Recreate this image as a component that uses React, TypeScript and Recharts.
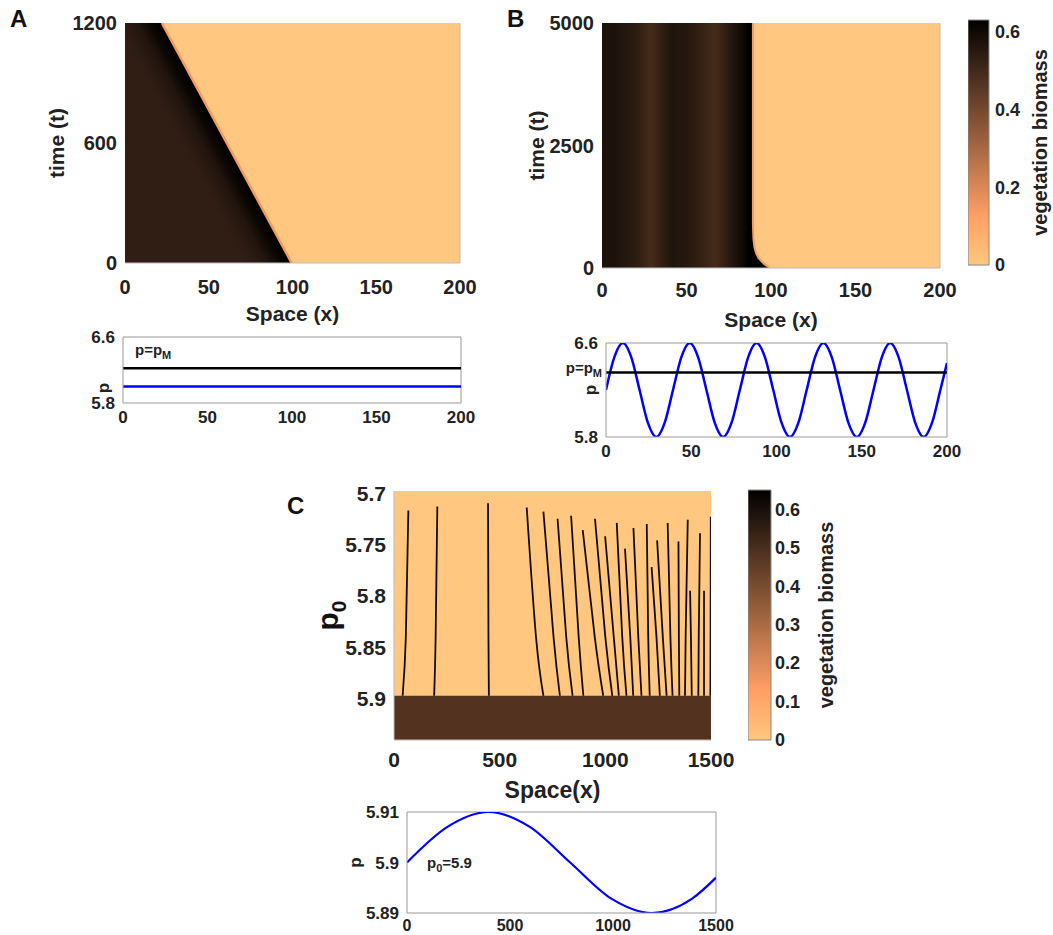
import React from 'react';
import {
  ComposedChart, BarChart, Area, Line, Bar, XAxis, YAxis, CartesianGrid,
  ReferenceLine, ReferenceArea, Label,
} from 'recharts';

const FONT = '"Liberation Sans", Arial, Helvetica, sans-serif';
const INK = '#222';
const ORANGE = '#FFC77F';
const SALMON = '#F79A62';
const BLUE = '#0000FF';

// ---- panel A : front moving left through time ----
const A_X_TICKS = [0, 50, 100, 150, 200];
const A_T_TICKS = [0, 600, 1200];
const A_FRONT_X = [0, 22, 99.5];
const A_FRONT_T = [1200, 1200, 0];
const A_P_X = [0, 200];
const A_P = [6.0, 6.0];
const A_P_M = 6.22;

// ---- panel B : pinned front ----
const B_T_TICKS = [0, 2500, 5000];
const B_FRONT_X = [89.3, 89.3, 89.6, 90.2, 91.2, 92.6, 94.5, 96.5, 99.5];
const B_FRONT_T = [5000, 900, 600, 420, 300, 205, 130, 68, 0];
const B_SIN_X = [0, 4.9, 9.9, 14.8, 19.7, 24.6, 29.5, 34.4, 39.3, 44.2, 49.1, 54.0, 58.9, 63.8,
  68.7, 73.6, 78.5, 83.4, 88.3, 93.2, 98.1, 103.0, 107.9, 112.8, 117.7, 122.6, 127.5, 132.4,
  137.3, 142.2, 147.1, 152.0, 156.9, 161.8, 166.7, 171.6, 176.5, 181.4, 186.3, 191.2, 196.1, 200];
const B_SIN_P = [6.2, 6.48, 6.6, 6.48, 6.2, 5.92, 5.8, 5.92, 6.2, 6.48, 6.6, 6.48, 6.2, 5.92,
  5.8, 5.92, 6.2, 6.48, 6.6, 6.48, 6.2, 5.92, 5.8, 5.92, 6.2, 6.48, 6.6, 6.48,
  6.2, 5.92, 5.8, 5.92, 6.2, 6.48, 6.6, 6.48, 6.2, 5.92, 5.8, 5.92, 6.2, 6.43];
const B_P_M = 6.35;
const P_TICKS = [5.8, 6.6];

// ---- panel C : streaks vs p0 ----
const C_X_TICKS = [0, 500, 1000, 1500];
const C_P0_TICKS = [5.7, 5.75, 5.8, 5.85, 5.9];
const C_BAND_P = 5.897;
const C_MID_P = 5.84;
const C_TOP_X = [68, 205, 445, 628, 707, 774, 838, 893, 951, 999, 1054, 1093, 1133, 1196, 1219, 1245, 1295, 1346, 1390, 1401, 1448, 1467, 1499];
const C_TOP_P = [5.717, 5.713, 5.71, 5.714, 5.718, 5.725, 5.722, 5.736, 5.725, 5.742, 5.729, 5.754, 5.734, 5.73, 5.772, 5.746, 5.729, 5.747, 5.726, 5.795, 5.739, 5.795, 5.723];
const C_MID_X = [56, 197, 447, 672, 755, 815, 874, 950, 1000, 1040, 1080, 1118, 1156, 1203, 1242, 1272, 1308, 1348, 1380, 1405, 1442, 1467, 1498];
const C_BASE_X = [41, 190, 449, 707, 785, 845, 896, 990, 1033, 1064, 1100, 1132, 1171, 1210, 1258, 1290, 1318, 1350, 1377, 1409, 1440, 1467, 1497];
const C_SIN_X = [0, 198, 396, 594, 792, 990, 1188, 1386, 1500];
const C_SIN_P = [5.9, 5.9071, 5.91, 5.9071, 5.9, 5.8929, 5.89, 5.8929, 5.897];

// ---- colorbars ----
const CB_B_MAX = 0.63;
const CB_B_TICKS = [0, 0.2, 0.4, 0.6];
const CB_C_MAX = 0.65;
const CB_C_TICKS = [0, 0.1, 0.2, 0.3, 0.4, 0.5, 0.6];

const aVeg = A_FRONT_X.map((x, i) => ({ x, t: A_FRONT_T[i] }));
const aFront = aVeg.slice(1);
const aP = A_P_X.map((x, i) => ({ x, p: A_P[i] }));
const aPM = A_P_X.map(x => ({ x, p: A_P_M }));

const bFront = B_FRONT_X.map((x, i) => ({ x, t: B_FRONT_T[i] }));
const bBare = [...bFront.slice(1).map(d => ({ x: d.x, band: [d.t, 5000] })), { x: 200, band: [0, 5000] }];
const bSin = B_SIN_X.map((x, i) => ({ x, p: B_SIN_P[i] }));

const cStreaks = C_TOP_X.map((x, i) => [
  { x, p: C_TOP_P[i] },
  { x: C_MID_X[i], p: Math.max(C_MID_P, C_TOP_P[i]) },
  { x: C_BASE_X[i], p: C_BAND_P },
]);
const cSin = C_SIN_X.map((x, i) => ({ x, p: C_SIN_P[i] }));

const tick = (size: number) => ({ fill: INK, fontSize: size, fontWeight: 700, fontFamily: FONT });
const titleStyle = (size: number, weight = 700) => ({
  fill: INK, fontSize: size, fontWeight: weight, fontFamily: FONT, textAnchor: 'middle' as const,
});

const copperStops = (
  <>
    <stop offset="0" stopColor="#000000" />
    <stop offset="0.8" stopColor="#FF9F65" />
    <stop offset="1" stopColor={ORANGE} />
  </>
);

const Pos: React.FC<{ left: number; top: number; children: React.ReactNode }> = ({ left, top, children }) => (
  <div style={{ position: 'absolute', left, top }}>{children}</div>
);

const PanelLetter: React.FC<{ left: number; top: number; text: string }> = ({ left, top, text }) => (
  <div style={{ position: 'absolute', left, top, fontSize: 24, lineHeight: '24px', fontWeight: 700, fontFamily: FONT, color: '#111' }}>
    {text}
  </div>
);

const pmLabel = (dx: number, dy: number, anchor: 'start' | 'end') => (props: any) => {
  const { viewBox } = props;
  const x = anchor === 'start' ? viewBox.x + dx : viewBox.x - dx;
  return (
    <text x={x} y={viewBox.y + dy} textAnchor={anchor} fill={INK} fontSize={15} fontWeight={700} fontFamily={FONT}>
      p=p<tspan fontSize={11} dy={4}>M</tspan>
    </text>
  );
};

const p0Label = (props: any) => {
  const { viewBox } = props;
  const x = viewBox.x + 33;
  const y = viewBox.y + viewBox.height / 2;
  return (
    <text x={x} y={y} dy="0.36em" transform={`rotate(-90 ${x} ${y})`} textAnchor="middle" fill="#111" fontSize={30} fontWeight={700} fontFamily={FONT}>
      p<tspan fontSize={21} dy={8}>0</tspan>
    </text>
  );
};

const p0Note = (props: any) => {
  const { viewBox } = props;
  return (
    <text x={viewBox.x + 20} y={viewBox.y + 5} fill={INK} fontSize={15} fontWeight={700} fontFamily={FONT}>
      p<tspan fontSize={11} dy={4}>0</tspan><tspan dy={-4}>=5.9</tspan>
    </text>
  );
};

const App: React.FC = () => {
  return (
    <div style={{ position: 'absolute', left: 0, top: 0, width: 1053, height: 935, background: '#fff', overflow: 'hidden', fontFamily: FONT }}>
      <PanelLetter left={10} top={7} text="A" />
      <PanelLetter left={507} top={7} text="B" />
      <PanelLetter left={287} top={494} text="C" />

      {/* A heatmap */}
      <Pos left={35} top={13}>
        <ComposedChart width={450} height={316} margin={{ top: 10, right: 25, bottom: 8, left: 0 }}>
          <defs>
            {/* darkening towards the front, iso-lines parallel to it */}
            <linearGradient id="aDark" x1="0.832" y1="1.131" x2="1" y2="1">
              <stop offset="0" stopColor="#301E15" />
              <stop offset="0.45" stopColor="#22150E" />
              <stop offset="0.75" stopColor="#0A0604" />
              <stop offset="1" stopColor="#000000" />
            </linearGradient>
          </defs>
          <CartesianGrid fill={ORANGE} horizontal={false} vertical={false} stroke="none" />
          <XAxis type="number" dataKey="x" domain={[0, 200]} ticks={A_X_TICKS} interval={0} allowDataOverflow
            height={58} tickLine={false} tickMargin={11} axisLine={{ stroke: '#bbb' }} tick={tick(20)}>
            <Label value="Space (x)" position="insideBottom" offset={0} style={titleStyle(21)} />
          </XAxis>
          <YAxis type="number" domain={[0, 1200]} ticks={A_T_TICKS} interval={0} allowDataOverflow width={90}
            tickLine={false} axisLine={false} tick={tick(20)}>
            <Label value="time (t)" angle={-90} position="insideLeft" offset={22} style={titleStyle(21)} />
          </YAxis>
          <Area data={aVeg} dataKey="t" type="linear" fill="url(#aDark)" fillOpacity={1} stroke="none" isAnimationActive={false} />
          <Line data={aFront} dataKey="t" type="linear" stroke={SALMON} strokeWidth={2.5} dot={false} isAnimationActive={false} />
          <ReferenceLine x={200} stroke="#bbb" />
        </ComposedChart>
      </Pos>

      {/* B heatmap */}
      <Pos left={512} top={13}>
        <ComposedChart width={453} height={322} margin={{ top: 10, right: 25, bottom: 8, left: 0 }}>
          <defs>
            <linearGradient id="bStripes" x1="0" y1="0" x2="1" y2="0">
              <stop offset="0" stopColor="#1C120B" />
              <stop offset="0.04" stopColor="#1E130C" />
              <stop offset="0.10" stopColor="#2C1C12" />
              <stop offset="0.145" stopColor="#462B1B" />
              <stop offset="0.18" stopColor="#2F1D12" />
              <stop offset="0.21" stopColor="#1F140D" />
              <stop offset="0.27" stopColor="#2B1B11" />
              <stop offset="0.335" stopColor="#462B1B" />
              <stop offset="0.37" stopColor="#2E1C12" />
              <stop offset="0.41" stopColor="#140C08" />
              <stop offset="0.435" stopColor="#000000" />
              <stop offset="0.5" stopColor="#000000" />
              <stop offset="0.505" stopColor={ORANGE} />
              <stop offset="1" stopColor={ORANGE} />
            </linearGradient>
          </defs>
          <CartesianGrid fill="url(#bStripes)" horizontal={false} vertical={false} stroke="none" />
          <XAxis type="number" dataKey="x" domain={[0, 200]} ticks={A_X_TICKS} interval={0} allowDataOverflow
            height={59} tickLine={false} tickMargin={9} axisLine={{ stroke: '#bbb' }} tick={tick(20)}>
            <Label value="Space (x)" position="insideBottom" offset={0} style={titleStyle(21)} />
          </XAxis>
          <YAxis type="number" domain={[0, 5000]} ticks={B_T_TICKS} interval={0} allowDataOverflow width={90}
            tickLine={false} axisLine={false} tick={tick(20)}>
            <Label value="time (t)" angle={-90} position="insideLeft" offset={25} style={titleStyle(21)} />
          </YAxis>
          <Area data={bBare} dataKey="band" type="linear" fill={ORANGE} fillOpacity={1} stroke="none" isAnimationActive={false} />
          <Line data={bFront} dataKey="t" type="linear" stroke={SALMON} strokeWidth={2} dot={false} isAnimationActive={false} />
          <ReferenceLine x={200} stroke="#bbb" />
        </ComposedChart>
      </Pos>

      {/* B colorbar */}
      <Pos left={968} top={10}>
        <BarChart width={85} height={268} data={[{ name: 'biomass', v: CB_B_MAX }]} margin={{ top: 10, right: 0, bottom: 13, left: 0 }} barCategoryGap={0}>
          <defs>
            <linearGradient id="cbB" x1="0" y1="0" x2="0" y2="1">{copperStops}</linearGradient>
          </defs>
          <XAxis dataKey="name" hide />
          <YAxis orientation="right" type="number" domain={[0, CB_B_MAX]} ticks={CB_B_TICKS} interval={0} width={64}
            tickLine={false} axisLine={false} tickMargin={0} tick={tick(18)}>
            <Label value="vegetation biomass" angle={-90} position="insideLeft" offset={51} style={titleStyle(20)} />
          </YAxis>
          <Bar dataKey="v" fill="url(#cbB)" stroke="#888" isAnimationActive={false} />
        </BarChart>
      </Pos>

      {/* A p-profile */}
      <Pos left={73} top={327}>
        <ComposedChart width={413} height={106} margin={{ top: 10, right: 25, bottom: 0, left: 0 }}>
          <XAxis type="number" dataKey="x" domain={[0, 200]} ticks={A_X_TICKS} interval={0} allowDataOverflow height={30}
            tickLine={false} axisLine={{ stroke: '#999' }} tick={tick(17)} />
          <YAxis type="number" domain={[5.8, 6.6]} ticks={P_TICKS} interval={0} allowDataOverflow width={50}
            tickLine={false} axisLine={{ stroke: '#999' }} tick={tick(17)}>
            <Label value="p" angle={-90} position="insideLeft" offset={30} dy={18} style={titleStyle(17)} />
          </YAxis>
          <ReferenceLine y={6.6} stroke="#999" />
          <ReferenceLine x={200} stroke="#999" />
          <Line data={aPM} dataKey="p" type="linear" stroke="#000" strokeWidth={2.5} dot={false} isAnimationActive={false} />
          <Line data={aP} dataKey="p" type="linear" stroke={BLUE} strokeWidth={2.5} dot={false} isAnimationActive={false} />
          <ReferenceLine y={A_P_M} stroke="none" label={pmLabel(12, -13, 'start')} />
        </ComposedChart>
      </Pos>

      {/* B p-profile */}
      <Pos left={556} top={333}>
        <ComposedChart width={416} height={134} margin={{ top: 10, right: 25, bottom: 0, left: 0 }}>
          <XAxis type="number" dataKey="x" domain={[0, 200]} ticks={A_X_TICKS} interval={0} allowDataOverflow height={30}
            tickLine={false} axisLine={{ stroke: '#999' }} tick={tick(17)} />
          <YAxis type="number" domain={[5.8, 6.6]} ticks={P_TICKS} interval={0} allowDataOverflow width={50}
            tickLine={false} axisLine={{ stroke: '#999' }} tick={tick(17)}>
            <Label value="p" angle={-90} position="insideLeft" offset={34} style={titleStyle(17)} />
          </YAxis>
          <ReferenceLine y={6.6} stroke="#999" />
          <ReferenceLine x={200} stroke="#999" />
          <Line data={bSin} dataKey="p" type="monotone" stroke={BLUE} strokeWidth={2.5} dot={false} isAnimationActive={false} />
          <ReferenceLine y={B_P_M} stroke="#000" strokeWidth={2.5} label={pmLabel(4, 1, 'end')} />
        </ComposedChart>
      </Pos>

      {/* C heatmap */}
      <Pos left={294} top={481}>
        <ComposedChart width={442} height={325} margin={{ top: 10, right: 25, bottom: 8, left: 0 }}>
          <CartesianGrid fill={ORANGE} horizontal={false} vertical={false} stroke="none" />
          <XAxis type="number" dataKey="x" domain={[0, 1500]} ticks={C_X_TICKS} interval={0} allowDataOverflow height={58}
            tickLine={false} tickMargin={6} axisLine={{ stroke: '#bbb' }} tick={tick(21)}>
            <Label value="Space(x)" position="insideBottom" offset={0} style={titleStyle(23)} />
          </XAxis>
          <YAxis type="number" reversed domain={[5.698, 5.94]} ticks={C_P0_TICKS} interval={0} allowDataOverflow width={100}
            tickLine={false} axisLine={{ stroke: '#bbb' }} tick={tick(21)}>
            <Label content={p0Label} />
          </YAxis>
          <ReferenceArea x1={0} x2={1500} y1={C_BAND_P} y2={5.94} fill="#533220" fillOpacity={1} stroke="none" />
          {cStreaks.map((d, i) => (
            <Line key={i} data={d} dataKey="p" type="natural" stroke="#170D08" strokeWidth={1.8} dot={false} isAnimationActive={false} />
          ))}
        </ComposedChart>
      </Pos>

      {/* C colorbar */}
      <Pos left={748} top={480}>
        <BarChart width={118} height={273} data={[{ name: 'biomass', v: CB_C_MAX }]} margin={{ top: 10, right: 0, bottom: 13, left: 0 }} barCategoryGap={0}>
          <defs>
            <linearGradient id="cbC" x1="0" y1="0" x2="0" y2="1">{copperStops}</linearGradient>
          </defs>
          <XAxis dataKey="name" hide />
          <YAxis orientation="right" type="number" domain={[0, CB_C_MAX]} ticks={CB_C_TICKS} interval={0} width={95}
            tickLine={false} axisLine={false} tickSize={4} tickMargin={0} tick={tick(18)}>
            <Label value="vegetation biomass" angle={-90} position="insideLeft" offset={55} style={titleStyle(20)} />
          </YAxis>
          <Bar dataKey="v" fill="url(#cbC)" stroke="#888" isAnimationActive={false} />
        </BarChart>
      </Pos>

      {/* C p-profile */}
      <Pos left={347} top={802}>
        <ComposedChart width={389} height={133} margin={{ top: 10, right: 20, bottom: 0, left: 0 }}>
          <XAxis type="number" dataKey="x" domain={[0, 1500]} ticks={C_X_TICKS} interval={0} allowDataOverflow height={22}
            tickLine={false} tickMargin={1} axisLine={{ stroke: '#999' }} tick={tick(16)} />
          <YAxis type="number" domain={[5.89, 5.91]} ticks={[5.89, 5.9, 5.91]} interval={0} allowDataOverflow width={60}
            tickLine={false} axisLine={{ stroke: '#999' }} tick={tick(17)}>
            <Label value="p" angle={-90} position="insideLeft" offset={8} style={titleStyle(17)} />
          </YAxis>
          <ReferenceLine y={5.91} stroke="#999" />
          <ReferenceLine x={1500} stroke="#999" />
          <Line data={cSin} dataKey="p" type="monotone" stroke={BLUE} strokeWidth={2.2} dot={false} isAnimationActive={false} />
          <ReferenceLine y={5.9} stroke="none" label={p0Note} />
        </ComposedChart>
      </Pos>
    </div>
  );
};

export default App;
